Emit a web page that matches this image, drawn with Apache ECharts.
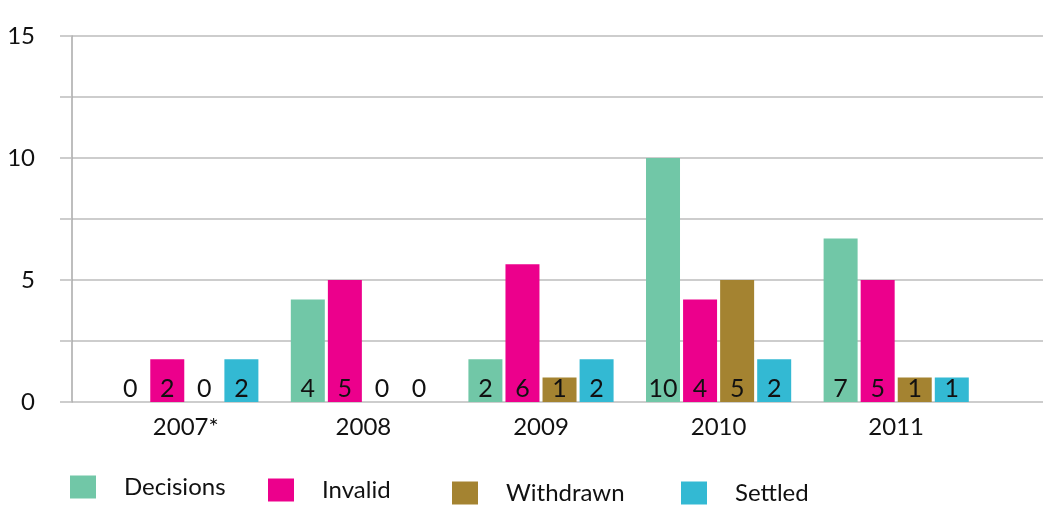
<!DOCTYPE html>
<html>
<head>
<meta charset="utf-8">
<script src="https://cdn.jsdelivr.net/npm/echarts@6/dist/echarts.min.js"></script>
<style>html,body{margin:0;padding:0;background:#fff}#c{width:1043px;height:508px}</style>
</head>
<body>
<div id="c"></div>
<script>
const categories = ['2007*', '2008', '2009', '2010', '2011'];
const seriesNames = ['Decisions', 'Invalid', 'Withdrawn', 'Settled'];
// bar heights as drawn in the picture
const decisions = [0, 4.2, 1.75, 10, 6.7];
const invalid   = [1.75, 5, 5.65, 4.2, 5];
const withdrawn = [0, 0, 1, 5, 1];
const settled   = [1.75, 0, 1.75, 1.75, 1];
// value labels printed on the bars
const decisionsLabels = ['0', '4', '2', '10', '7'];
const invalidLabels   = ['2', '5', '6', '4', '5'];
const withdrawnLabels = ['0', '0', '1', '5', '1'];
const settledLabels   = ['2', '0', '2', '2', '1'];
const yTicks = [0, 5, 10, 15];

const colors = ['#71C7A7', '#EC008C', '#A48331', '#33B9D3'];
const values = [decisions, invalid, withdrawn, settled];
const labels = [decisionsLabels, invalidLabels, withdrawnLabels, settledLabels];
const FONT = 'Lato';

const chart = echarts.init(document.getElementById('c'), null, {renderer: 'canvas'});

const legendPos = [
  {left: 70, top: 475},
  {left: 268, top: 478},
  {left: 452, top: 481},
  {left: 681, top: 481}
];

const option = {
  backgroundColor: '#ffffff',
  animation: false,
  color: colors,
  legend: seriesNames.map((n, i) => ({
    data: [n],
    left: legendPos[i].left,
    top: legendPos[i].top,
    padding: 0,
    itemWidth: 26,
    itemHeight: 23,
    icon: 'rect',
    selectedMode: false,
    textStyle: {fontFamily: FONT, fontSize: 24, color: '#111', padding: [0, 0, 0, 23]}
  })),
  grid: [
    {left: 72, right: 0, top: 36, bottom: 106},
    {left: 97, right: 58, top: 36, bottom: 106}
  ],
  xAxis: [
    {gridIndex: 0, type: 'value', show: false, min: 0, max: 1},
    {
      gridIndex: 1, type: 'category', data: categories,
      axisLine: {show: false}, axisTick: {show: false},
      axisLabel: {fontFamily: FONT, fontSize: 24, color: '#111', margin: 13}
    }
  ],
  yAxis: [
    {
      gridIndex: 0, type: 'value', min: 0, max: 15, interval: 2.5,
      axisLine: {show: true, lineStyle: {color: '#a8a8a8', width: 1.5}},
      axisTick: {show: true, length: 12, inside: false, lineStyle: {color: '#bdbdbd', width: 1.5}},
      splitLine: {show: true, lineStyle: {color: '#bdbdbd', width: 1.5}},
      axisLabel: {
        fontFamily: FONT, fontSize: 24, color: '#111', margin: 37,
        formatter: v => yTicks.indexOf(v) >= 0 ? String(v) : ''
      }
    },
    {gridIndex: 1, type: 'value', min: 0, max: 15, show: false}
  ],
  series: seriesNames.map((n, i) => ({
    name: n,
    type: 'bar',
    xAxisIndex: 1,
    yAxisIndex: 1,
    data: values[i],
    barWidth: 34,
    barGap: '9%',
    itemStyle: {color: colors[i]},
    label: {
      show: true,
      position: 'insideBottom',
      distance: 1,
      fontFamily: FONT,
      fontSize: 25,
      color: '#111',
      formatter: p => labels[i][p.dataIndex]
    }
  }))
};
chart.setOption(option);
</script>
</body>
</html>
